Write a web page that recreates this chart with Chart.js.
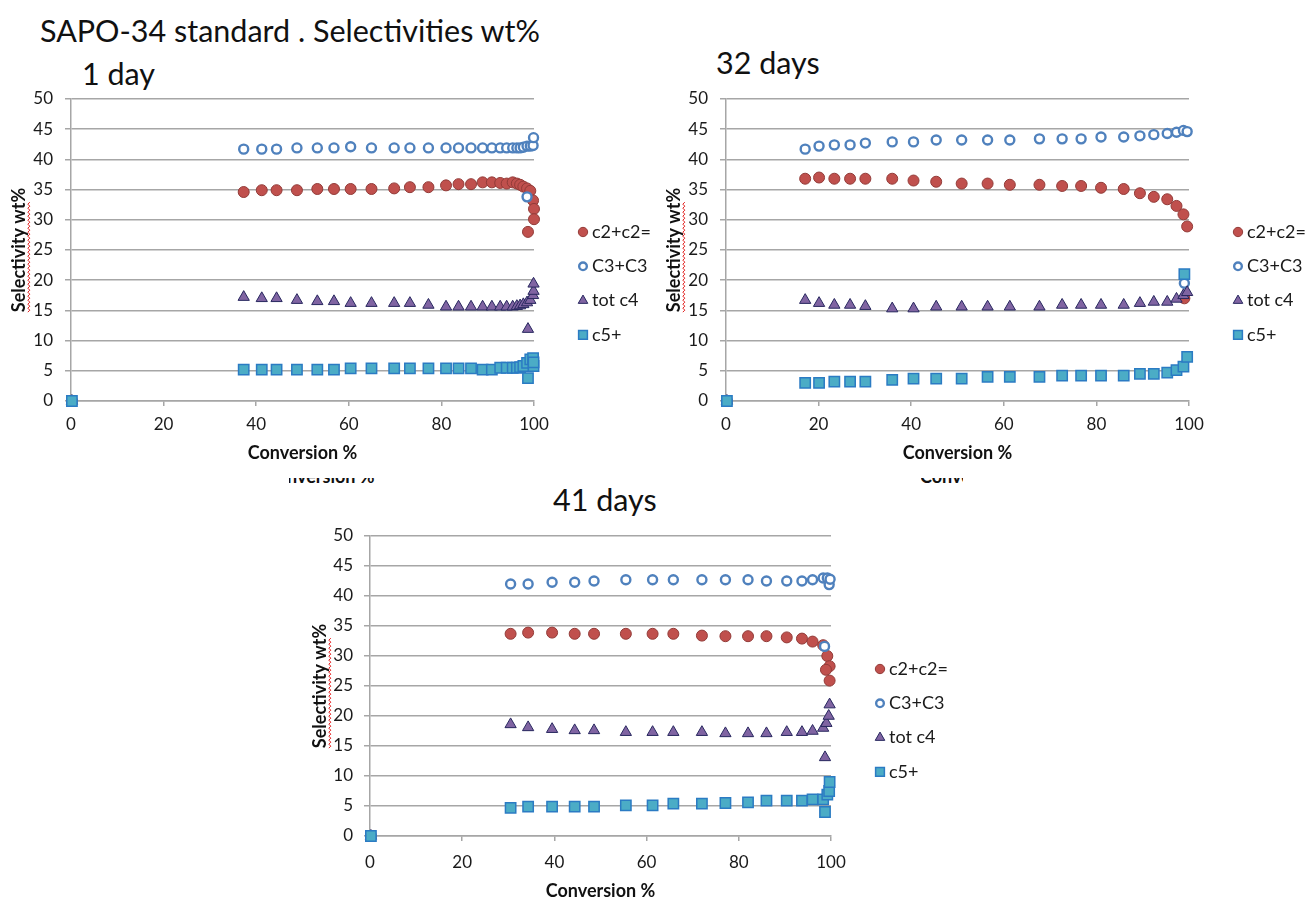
<!DOCTYPE html>
<html>
<head>
<meta charset="utf-8">
<script src="https://cdn.jsdelivr.net/npm/chart.js@4.4.1/dist/chart.umd.min.js"></script>
<style>
  html, body { margin: 0; padding: 0; background: #fff; overflow: hidden; }
  body { width: 1307px; height: 898px; position: relative; font-family: Lato, "Open Sans", sans-serif; color: #111; }
  .title { position: absolute; font-size: 30.5px; line-height: 1; white-space: nowrap; }
  .box { position: absolute; }
  .clip { position: absolute; overflow: hidden; }
  .clip span { position: absolute; font: bold 18px Lato, sans-serif; white-space: nowrap; color: #111; }
</style>
</head>
<body>
<div class="title" style="left:40px; top:15px;">SAPO-34 standard . Selectivities wt%</div>
<div class="title" style="left:82px; top:58px;">1 day</div>
<div class="title" style="left:716px; top:47px;">32 days</div>
<div class="title" style="left:553px; top:484px;">41 days</div>

<!-- leftovers of axis titles peeking out from under the bottom panel -->
<div class="clip" style="left:289px; top:478px; width:94px; height:7px;"><span style="left:-24px; top:-13px;">Conversion %</span></div>
<div class="clip" style="left:921px; top:478px; width:42px; height:7px;"><span style="left:-1px; top:-13px;">Conversion %</span></div>

<canvas id="c1" class="box" width="660" height="411" style="left:0px; top:69px;"></canvas>
<canvas id="c2" class="box" width="647" height="411" style="left:660px; top:69px;"></canvas>
<canvas id="c3" class="box" width="650" height="404" style="left:300px; top:506px;"></canvas>

<script>
// series names (legend)
const seriesNames = ['c2+c2=', 'C3+C3', 'tot c4', 'c5+'];
// every run starts at conversion 0
const startPoint = [0.2, 0];

// 1 day
const day1X  = [37.3, 41.2, 44.4, 48.8, 53.2, 56.8, 60.4, 64.9, 69.8, 73.2, 77.2, 81.0, 83.7, 86.4, 88.9, 90.9, 92.7, 94.1, 95.4, 96.3, 97.0, 97.7, 98.5, 99.2, 99.8];
const day1C2 = [34.6, 34.9, 34.9, 34.9, 35.1, 35.1, 35.1, 35.1, 35.2, 35.4, 35.4, 35.7, 35.9, 35.9, 36.2, 36.2, 36.1, 36.0, 36.2, 36.0, 35.8, 35.5, 35.2, 34.8, 33.2];
const day1C3 = [41.7, 41.7, 41.7, 41.9, 41.9, 41.9, 42.1, 41.9, 41.9, 41.9, 41.9, 41.9, 41.9, 41.9, 41.9, 41.9, 41.9, 41.9, 41.9, 41.9, 41.9, 42.0, 42.2, 42.2, 42.3];
const day1C4 = [17.2, 17.0, 17.0, 16.7, 16.5, 16.5, 16.2, 16.2, 16.2, 16.2, 15.9, 15.6, 15.6, 15.6, 15.6, 15.6, 15.6, 15.6, 15.6, 15.7, 15.8, 16.0, 16.3, 16.7, 17.5];
const day1C5 = [5.2, 5.2, 5.2, 5.2, 5.2, 5.2, 5.4, 5.4, 5.4, 5.4, 5.4, 5.4, 5.4, 5.4, 5.2, 5.2, 5.5, 5.5, 5.5, 5.5, 5.6, 5.8, 6.3, 6.9, 7.1];
const day1C2Tail = [[100, 31.8], [100, 30.1], [98.7, 28.0]];
const day1C3Tail = [[99.9, 43.6], [98.5, 33.8]];
const day1C4Tail = [[99.9, 18.2], [99.9, 19.4], [98.7, 11.9]];
const day1C5Tail = [[99.9, 5.8], [99.9, 6.4], [98.7, 3.8]];

// 32 days
const day32X  = [17.1, 20.1, 23.4, 26.8, 30.1, 35.9, 40.5, 45.4, 50.9, 56.5, 61.3, 67.7, 72.6, 76.7, 81.0, 85.9, 89.4, 92.4, 95.3, 97.3, 98.8, 99.6];
const day32C2 = [36.8, 37.0, 36.8, 36.8, 36.8, 36.8, 36.5, 36.3, 36.0, 36.0, 35.8, 35.8, 35.6, 35.6, 35.3, 35.1, 34.4, 33.8, 33.4, 32.3, 30.9, 28.9];
const day32C3 = [41.7, 42.2, 42.4, 42.4, 42.7, 42.9, 42.9, 43.2, 43.2, 43.2, 43.2, 43.4, 43.4, 43.4, 43.7, 43.7, 43.9, 44.1, 44.3, 44.5, 44.8, 44.6];
const day32C4 = [16.7, 16.2, 15.9, 15.9, 15.7, 15.3, 15.3, 15.6, 15.6, 15.6, 15.6, 15.6, 15.9, 15.9, 15.9, 15.9, 16.2, 16.4, 16.4, 16.9, 17.5, 18.0];
const day32C5 = [3.0, 3.0, 3.2, 3.2, 3.2, 3.5, 3.7, 3.7, 3.7, 4.0, 4.0, 4.0, 4.2, 4.2, 4.2, 4.2, 4.5, 4.5, 4.7, 5.1, 5.7, 7.3];
const day32C2Tail = [[99.0, 17.0]];
const day32C3Tail = [[99.0, 19.5]];
const day32C4Tail = [];
const day32C5Tail = [[99.0, 21.0]];

// 41 days
const day41X  = [30.5, 34.3, 39.5, 44.4, 48.6, 55.5, 61.3, 65.8, 72.0, 77.1, 82.0, 86.0, 90.4, 93.7, 96.0, 98.3];
const day41C2 = [33.7, 33.9, 33.9, 33.7, 33.7, 33.7, 33.7, 33.7, 33.4, 33.3, 33.3, 33.3, 33.1, 32.9, 32.4, 31.8];
const day41C3 = [42.0, 42.0, 42.3, 42.3, 42.5, 42.7, 42.7, 42.7, 42.7, 42.7, 42.7, 42.5, 42.5, 42.5, 42.7, 43.0];
const day41C4 = [18.6, 18.1, 17.8, 17.6, 17.6, 17.3, 17.3, 17.3, 17.3, 17.1, 17.1, 17.1, 17.3, 17.3, 17.5, 18.0];
const day41C5 = [4.7, 4.9, 4.9, 4.9, 4.9, 5.1, 5.1, 5.4, 5.4, 5.5, 5.6, 5.9, 5.9, 5.9, 6.1, 6.1];
const day41C2Tail = [[99.2, 30.0], [99.7, 28.3], [98.9, 27.7], [99.7, 25.9]];
const day41C3Tail = [[99.2, 43.0], [99.6, 41.9], [99.8, 42.8], [98.6, 31.6]];
const day41C4Tail = [[99.0, 18.8], [99.5, 20.0], [99.7, 21.9], [98.7, 13.1]];
const day41C5Tail = [[99.2, 6.9], [99.6, 7.5], [99.7, 9.0], [98.7, 4.0]];

// marker look per series (excel 2007 default palette)
const markerStyles = [
  { pointStyle: 'circle',   pointRadius: 5.5, backgroundColor: '#C0504D', borderColor: '#923B38', borderWidth: 1 },
  { pointStyle: 'circle',   pointRadius: 4.5, backgroundColor: '#FFFFFF', borderColor: '#4F81BD', borderWidth: 2.4 },
  { pointStyle: 'triangle', pointRadius: 6.5, backgroundColor: '#8064A2', borderColor: '#28285F', borderWidth: 1 },
  { pointStyle: 'rect',     pointRadius: 7.3, backgroundColor: '#4BACC6', borderColor: '#2B7BC3', borderWidth: 1.5 }
];

const gridGrey = '#a6a6a6';
const axisTitleSize = 18;

function toPoints(xs, ys, tail) {
  const pts = [{ x: startPoint[0], y: startPoint[1] }];
  xs.forEach((x, i) => pts.push({ x: x, y: ys[i] }));
  tail.forEach(p => pts.push({ x: p[0], y: p[1] }));
  return pts;
}

// legend on the right, drawn like the excel one
const sideLegend = {
  id: 'sideLegend',
  afterDraw(chart) {
    const ctx = chart.ctx;
    const area = chart.chartArea;
    ctx.save();
    chart.data.datasets.forEach((ds, i) => {
      const x = area.right + 49;
      const y = area.top + 133 + i * 34.3;
      ctx.fillStyle = ds.backgroundColor;
      ctx.strokeStyle = ds.borderColor;
      ctx.lineWidth = ds.borderWidth;
      Chart.helpers.drawPoint(ctx, {
        pointStyle: ds.pointStyle,
        radius: ds.pointRadius * 0.85,
        borderWidth: ds.borderWidth,
        rotation: 0
      }, x, y);
      ctx.fillStyle = '#1a1a1a';
      ctx.font = '18px Lato, sans-serif';
      ctx.textBaseline = 'middle';
      ctx.textAlign = 'left';
      ctx.fillText(ds.label, x + 9, y);
    });
    ctx.restore();
  }
};

// red spell-check squiggle under the y axis title
const spellMark = {
  id: 'spellMark',
  afterDraw(chart) {
    const s = chart.scales.y;
    const t = s.options.title;
    const ctx = chart.ctx;
    ctx.save();
    ctx.font = 'bold ' + axisTitleSize + 'px Lato, sans-serif';
    const full = ctx.measureText(t.text).width;
    const pct = ctx.measureText('%').width;
    const cy = (chart.chartArea.top + chart.chartArea.bottom) / 2;
    const cx = s.left + t.padding.top + axisTitleSize * 0.6 + 9;
    let y = cy + full / 2;
    const yEnd = cy - full / 2 + pct;
    ctx.strokeStyle = '#e21b1b';
    ctx.lineWidth = 1;
    ctx.beginPath();
    ctx.moveTo(cx, y);
    let k = 0;
    while (y > yEnd) {
      y -= 2;
      k++;
      ctx.lineTo(cx + (k % 2 ? 2 : 0), y);
    }
    ctx.stroke();
    ctx.restore();
  }
};

function makeChart(id, series, geo) {
  const datasets = series.map((pts, i) => Object.assign({
    label: seriesNames[i],
    data: pts,
    showLine: false,
    clip: false,
    order: 4 - i
  }, markerStyles[i]));

  return new Chart(document.getElementById(id), {
    type: 'scatter',
    data: { datasets: datasets },
    plugins: [sideLegend, spellMark],
    options: {
      responsive: false,
      animation: false,
      events: [],
      layout: { padding: { left: 0, top: 30, right: geo.right, bottom: 0 } },
      plugins: { legend: { display: false }, tooltip: { enabled: false } },
      scales: {
        x: {
          type: 'linear', min: 0, max: 100,
          afterFit(scale) { scale.height = geo.xH; },
          ticks: { stepSize: 20, maxRotation: 0, autoSkip: false, padding: geo.xPad,
                   color: '#1a1a1a', font: { family: 'Lato', size: 17 } },
          grid: { display: true, drawOnChartArea: false, drawTicks: true, tickLength: 5, color: gridGrey, lineWidth: 1.5 },
          border: { display: true, color: gridGrey, width: 1.5 },
          title: { display: true, text: 'Conversion %', color: '#111',
                   font: { family: 'Lato', size: axisTitleSize, weight: 'bold' }, padding: { top: 0, bottom: geo.xTitlePad } }
        },
        y: {
          type: 'linear', min: 0, max: 50,
          afterFit(scale) { scale.width = geo.yW; },
          ticks: { stepSize: 5, padding: geo.yPad, color: '#1a1a1a', font: { family: 'Lato', size: 17 } },
          grid: { color: gridGrey, lineWidth: 1.5, drawTicks: true, tickLength: 6 },
          border: { display: true, color: gridGrey, width: 1.5 },
          title: { display: true, text: 'Selectivity wt%', color: '#111',
                   font: { family: 'Lato', size: axisTitleSize, weight: 'bold' }, padding: { top: geo.yTitlePad, bottom: 0 } }
        }
      }
    }
  });
}

makeChart('c1', [
  toPoints(day1X, day1C2, day1C2Tail),
  toPoints(day1X, day1C3, day1C3Tail),
  toPoints(day1X, day1C4, day1C4Tail),
  toPoints(day1X, day1C5, day1C5Tail)
], { right: 126, xH: 79, yW: 71, xPad: 8, yPad: 12, xTitlePad: 16, yTitlePad: 8 });

makeChart('c2', [
  toPoints(day32X, day32C2, day32C2Tail),
  toPoints(day32X, day32C3, day32C3Tail),
  toPoints(day32X, day32C4, day32C4Tail),
  toPoints(day32X, day32C5, day32C5Tail)
], { right: 118, xH: 79, yW: 66, xPad: 8, yPad: 12, xTitlePad: 16, yTitlePad: 3 });

makeChart('c3', [
  toPoints(day41X, day41C2, day41C2Tail),
  toPoints(day41X, day41C3, day41C3Tail),
  toPoints(day41X, day41C4, day41C4Tail),
  toPoints(day41X, day41C5, day41C5Tail)
], { right: 119, xH: 74, yW: 70, xPad: 11, yPad: 11, xTitlePad: 8, yTitlePad: 9 });
</script>
</body>
</html>
